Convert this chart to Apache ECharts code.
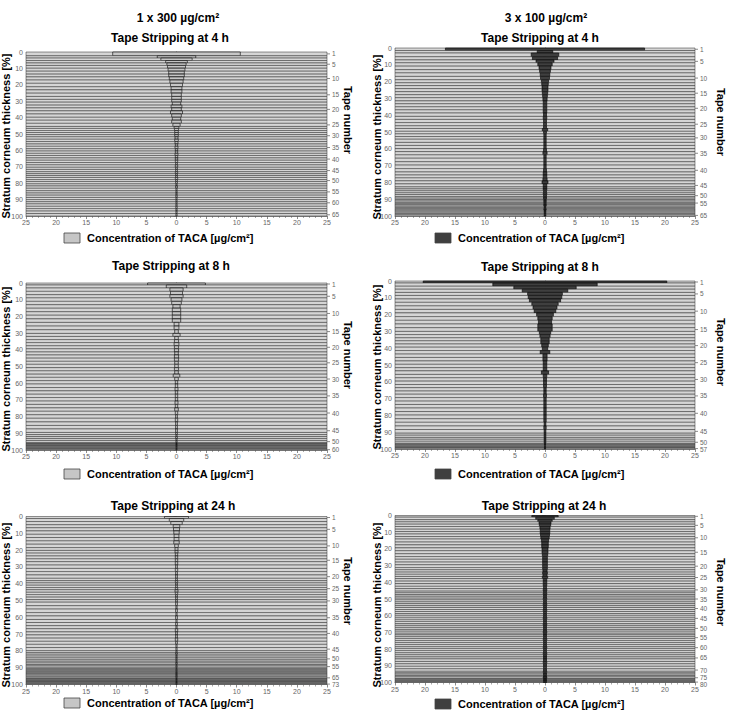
<!DOCTYPE html>
<html><head><meta charset="utf-8">
<script src="https://cdn.jsdelivr.net/npm/echarts@6/dist/echarts.min.js"></script>
<style>html,body{margin:0;padding:0;background:#fff}#c{width:730px;height:719px}</style>
</head><body><div id="c"></div>
<script>
// ---- Data: tape thickness [% of stratum corneum] and TACA concentration [µg/cm²] per tape ----
const thick_1x300_4h = [2.3, 1.4,1.5,1.5,1.5, 1.7,1.8,1.8,1.7,1.9, 2.0,2.1,1.9,2.0,2.0, 1.8,1.7,1.8,1.7,1.8, 1.9,2.0,1.8,1.9,1.9, 1.2,1.3,1.2,1.3,1.3, 1.5,1.4,1.5,1.4,1.5, 1.4,1.4,1.3,1.5,1.4, 1.4,1.4,1.5,1.3,1.4, 1.2,1.1,1.2,1.3,1.2, 1.4,1.3,1.4,1.5,1.4, 1.3,1.4,1.3,1.3,1.3, 1.5,1.4,1.5,1.5,1.5];
const conc_1x300_4h = [10.6, 3.2, 2.6, 1.8, 1.6, 1.5, 1.4, 1.3, 1.3, 1.2, 1.1, 1.0, 0.9, 0.9, 0.8, 0.8, 0.8, 0.7, 0.9, 0.8, 1.0, 0.8, 0.7, 0.8, 0.6, 0.4, 0.35, 0.3, 0.3, 0.3, 0.25, 0.3, 0.25, 0.2, 0.25, 0.2, 0.2, 0.25, 0.2, 0.2, 0.2, 0.15, 0.2, 0.15, 0.15, 0.2, 0.15, 0.15, 0.2, 0.15, 0.15, 0.1, 0.15, 0.1, 0.1, 0.1, 0.12, 0.1, 0.1, 0.1, 0.1, 0.12, 0.1, 0.1, 0.1];
const tapeLabels_1x300_4h = [1,5,10,15,20,25,30,35,40,45,50,55,60,65];

const thick_3x100_4h = [1.5, 1.5,2.2,1.9,1.7, 2.0,2.1,1.9,2.1,2.0, 1.8,1.7,1.8,1.8,1.8, 1.8,1.9,1.7,1.8,1.8, 1.9,2.0,1.8,1.9,1.9, 1.6,1.7,1.5,1.6,1.6, 1.9,1.8,1.9,1.8,1.9, 2.0,2.1,2.0,2.1,2.0, 1.8,1.7,1.8,1.8,1.8, 1.2,1.1,1.2,1.1,1.2, 0.9,0.8,0.9,0.8,0.8, 0.7,0.8,0.7,0.7,0.8,0.7,0.7,0.8,0.7,0.7];
const conc_3x100_4h = [16.6, 1.3, 2.3, 2.1, 1.5, 1.2, 1.0, 0.9, 0.8, 0.75, 0.6, 0.55, 0.5, 0.5, 0.45, 0.4, 0.35, 0.3, 0.3, 0.3, 0.3, 0.25, 0.3, 0.25, 0.25, 0.25, 0.45, 0.25, 0.2, 0.2, 0.2, 0.2, 0.2, 0.25, 0.35, 0.2, 0.2, 0.2, 0.2, 0.25, 0.3, 0.3, 0.35, 0.5, 0.3, 0.3, 0.3, 0.25, 0.3, 0.25, 0.25, 0.25, 0.2, 0.2, 0.2, 0.2, 0.2, 0.15, 0.15, 0.2, 0.15, 0.15, 0.15, 0.15, 0.15];
const tapeLabels_3x100_4h = [1,5,10,15,20,25,30,35,40,45,50,55,65];

const thick_1x300_8h = [1.2, 1.8,2.0,2.0,1.9, 2.1,2.0,2.1,2.1,2.1, 2.2,2.1,2.2,2.2,2.2, 1.8,1.9,1.8,1.9,1.8, 1.9,1.8,1.9,1.9,1.8, 2.0,1.9,2.0,1.9,2.0, 2.0,2.1,2.0,2.0,2.0, 2.1,2.0,2.1,2.0,2.1, 2.1,2.2,2.1,2.1,2.1, 1.3,1.2,1.2,1.2,1.2, 0.5,0.4,0.5,0.4,0.4,0.5,0.4,0.4,0.5,0.4];
const conc_1x300_8h = [4.8, 1.7, 1.1, 1.0, 1.1, 0.9, 0.8, 0.6, 0.7, 0.7, 0.7, 0.7, 0.4, 0.4, 0.3, 0.6, 0.3, 0.35, 0.4, 0.35, 0.35, 0.3, 0.35, 0.35, 0.3, 0.3, 0.35, 0.3, 0.55, 0.3, 0.2, 0.2, 0.25, 0.2, 0.2, 0.2, 0.25, 0.2, 0.3, 0.2, 0.15, 0.2, 0.15, 0.15, 0.15, 0.15, 0.1, 0.15, 0.1, 0.1, 0.1, 0.1, 0.1, 0.1, 0.1, 0.1, 0.1, 0.1, 0.1, 0.1];
const tapeLabels_1x300_8h = [1,5,10,15,20,25,30,35,40,45,50,60];

const thick_3x100_8h = [1.2, 1.9,1.8,1.9,1.8, 2.1,2.0,2.1,2.1,2.1, 2.2,2.2,2.2,2.2,2.2, 1.9,1.9,1.8,1.9,1.9, 2.0,2.1,2.0,2.1,2.0, 2.0,1.9,2.1,2.0,2.0, 2.0,1.9,2.0,1.9,2.0, 2.1,2.0,2.1,2.1,2.1, 2.2,2.1,2.2,2.1,2.2, 1.2,1.3,1.1,1.2,1.2, 0.5,0.5,0.5,0.5,0.5,0.4,0.5];
const conc_3x100_8h = [20.3, 8.7, 5.2, 3.8, 2.9, 2.8, 2.6, 2.2, 2.0, 1.8, 1.4, 1.2, 1.1, 1.2, 1.2, 0.95, 0.85, 0.7, 0.7, 0.55, 0.45, 0.8, 0.35, 0.35, 0.3, 0.3, 0.3, 0.6, 0.3, 0.25, 0.25, 0.25, 0.2, 0.2, 0.25, 0.2, 0.2, 0.2, 0.2, 0.2, 0.2, 0.2, 0.15, 0.2, 0.15, 0.15, 0.15, 0.15, 0.15, 0.15, 0.1, 0.1, 0.1, 0.1, 0.1, 0.1, 0.1];
const tapeLabels_3x100_8h = [1,5,10,15,20,25,30,35,40,45,50,57];

const thick_1x300_24h = [1.2, 1.8,1.9,1.8,1.9, 2.0,1.9,2.0,2.0,2.0, 1.7,1.6,1.7,1.7,1.7, 2.0,2.0,1.9,2.0,2.0, 1.4,1.3,1.4,1.4,1.3, 1.5,1.4,1.5,1.5,1.5, 2.1,2.0,2.1,2.0,2.1, 1.8,1.9,1.8,1.9,1.8, 1.9,1.9,1.8,1.9,1.9, 1.1,1.0,1.1,1.1,1.1, 0.9,1.0,0.9,0.8,0.9, 0.7,0.6,0.7,0.6,0.7,0.6,0.7,0.7,0.6,0.7, 0.4,0.5,0.4,0.5,0.4,0.5,0.4,0.5];
const conc_1x300_24h = [2.0, 1.2, 0.95, 0.55, 0.5, 0.45, 0.4, 0.4, 0.45, 0.3, 0.25, 0.25, 0.2, 0.2, 0.2, 0.2, 0.15, 0.2, 0.15, 0.15, 0.15, 0.2, 0.15, 0.15, 0.2, 0.25, 0.2, 0.15, 0.15, 0.15, 0.15, 0.1, 0.15, 0.1, 0.15, 0.1, 0.15, 0.1, 0.2, 0.15, 0.15, 0.2, 0.15, 0.1, 0.1, 0.1, 0.15, 0.1, 0.1, 0.1, 0.1, 0.1, 0.12, 0.1, 0.1, 0.1, 0.1, 0.12, 0.1, 0.1, 0.1, 0.1, 0.1, 0.12, 0.1, 0.1, 0.1, 0.1, 0.1, 0.1, 0.1, 0.1, 0.1];
const tapeLabels_1x300_24h = [1,5,10,15,20,25,30,35,40,45,50,55,65,73];

const thick_3x100_24h = [1.0, 1.5,1.3,1.4,1.4, 1.6,1.4,1.5,1.5,1.5, 1.8,1.7,1.8,1.7,1.8, 1.7,1.6,1.7,1.6,1.7, 1.3,1.4,1.3,1.3,1.3, 1.5,1.5,1.6,1.4,1.5, 1.0,1.1,1.0,1.1,1.0, 1.2,1.1,1.2,1.1,1.2, 1.2,1.2,1.1,1.2,1.2, 1.2,1.3,1.1,1.2,1.2, 1.1,1.2,1.0,1.1,1.1, 1.2,1.2,1.2,1.3,1.1, 1.2,1.3,1.2,1.3,1.2, 1.5,1.4,1.5,1.5,1.5, 0.9,0.8,0.9,0.8,0.9, 0.5,0.5,0.5,0.4,0.5];
const conc_3x100_24h = [2.2, 1.55, 1.2, 1.0, 0.95, 0.85, 0.8, 0.8, 0.75, 0.7, 0.6, 0.55, 0.55, 0.5, 0.5, 0.45, 0.4, 0.4, 0.4, 0.4, 0.4, 0.35, 0.4, 0.35, 0.45, 0.3, 0.3, 0.3, 0.25, 0.3, 0.25, 0.3, 0.25, 0.25, 0.3, 0.25, 0.25, 0.3, 0.25, 0.25, 0.3, 0.25, 0.25, 0.25, 0.3, 0.25, 0.25, 0.3, 0.25, 0.25, 0.25, 0.3, 0.25, 0.25, 0.25, 0.3, 0.25, 0.25, 0.25, 0.3, 0.25, 0.25, 0.3, 0.25, 0.25, 0.25, 0.3, 0.25, 0.25, 0.25, 0.3, 0.25, 0.25, 0.25, 0.3, 0.25, 0.25, 0.25, 0.25, 0.25];
const tapeLabels_3x100_24h = [1,5,10,15,20,25,30,35,40,45,50,55,60,65,70,75,80];

const xTicks = [-25,-20,-15,-10,-5,0,5,10,15,20,25];
const doseTitles = ['1 x 300 µg/cm²', '3 x 100 µg/cm²'];
const timeTitles = ['Tape Stripping at 4 h', 'Tape Stripping at 8 h', 'Tape Stripping at 24 h'];
const yAxisName = 'Stratum corneum thickness [%]';
const rightAxisName = 'Tape number';
const legendName = 'Concentration of TACA [µg/cm²]';

// ---- Layout ----
const FONT = '"Liberation Sans", Arial, Helvetica, sans-serif';
const panels = [
  {thick: thick_1x300_4h,  conc: conc_1x300_4h,  labels: tapeLabels_1x300_4h,  dark: false, g: [26, 52, 301, 164],  title: [170, 38],  yName: [6, 136],   tName: [348, 120], leg: [64, 238]},
  {thick: thick_3x100_4h,  conc: conc_3x100_4h,  labels: tapeLabels_3x100_4h,  dark: true,  g: [395, 48, 300, 168], title: [540, 38],  yName: [377, 137], tName: [721, 122], leg: [435, 238]},
  {thick: thick_1x300_8h,  conc: conc_1x300_8h,  labels: tapeLabels_1x300_8h,  dark: false, g: [26, 283, 301, 167], title: [171, 266], yName: [6, 369],   tName: [348, 355], leg: [64, 474]},
  {thick: thick_3x100_8h,  conc: conc_3x100_8h,  labels: tapeLabels_3x100_8h,  dark: true,  g: [395, 281, 300, 168],title: [540, 267], yName: [377, 367], tName: [721, 352], leg: [435, 474]},
  {thick: thick_1x300_24h, conc: conc_1x300_24h, labels: tapeLabels_1x300_24h, dark: false, g: [26, 516.5, 301, 168],title: [173, 506], yName: [6, 605],   tName: [348, 591], leg: [64, 703]},
  {thick: thick_3x100_24h, conc: conc_3x100_24h, labels: tapeLabels_3x100_24h, dark: true,  g: [395, 515.5, 300, 167],title: [544, 506], yName: [377, 605], tName: [721, 592], leg: [435, 704]}
];
const timeIndex = [0, 0, 1, 1, 2, 2];

function buildRows(thick, conc) {
  const rows = []; let s = 0;
  for (let i = 0; i < thick.length; i++) { const e = s + thick[i]; rows.push([s, e, conc[i], i + 1]); s = e; }
  return rows;
}

const option = {animation: false, grid: [], xAxis: [], yAxis: [], series: [], graphic: []};
const axisGray = '#6e6e6e';

panels.forEach((p, i) => {
  const rows = buildRows(p.thick, p.conc);
  option.grid.push({left: p.g[0], top: p.g[1], width: p.g[2], height: p.g[3]});
  option.xAxis.push({
    gridIndex: i, type: 'value', min: xTicks[0], max: xTicks[xTicks.length - 1], interval: 5,
    axisLine: {show: true, onZero: false, lineStyle: {color: axisGray, width: 0.8}},
    axisTick: {show: true, length: 3, lineStyle: {color: axisGray, width: 0.8}},
    minorTick: {show: true, splitNumber: 5, length: 2, lineStyle: {color: axisGray, width: 0.6}},
    splitLine: {show: false},
    axisLabel: {fontSize: 7, color: '#666', margin: 3, fontFamily: FONT, formatter: v => String(Math.abs(v))}
  });
  option.yAxis.push({
    gridIndex: i, type: 'value', inverse: true, min: 0, max: 100, interval: 10,
    axisLine: {show: true, lineStyle: {color: axisGray, width: 0.8}},
    axisTick: {show: true, length: 3, lineStyle: {color: axisGray, width: 0.8}},
    minorTick: {show: true, splitNumber: 2, length: 2, lineStyle: {color: axisGray, width: 0.6}},
    splitLine: {show: false},
    axisLabel: {fontSize: 7, color: '#666', margin: 3, fontFamily: FONT}
  });
  const barFill = p.dark ? '#3f3f3f' : '#c6c6c6';
  option.series.push({
    type: 'custom', xAxisIndex: i, yAxisIndex: i, clip: false, name: legendName,
    encode: {x: 2, y: [0, 1]},
    data: rows,
    renderItem: function (params, api) {
      const s = api.value(0), e = api.value(1), c = api.value(2);
      const a = api.coord([-25, s]), b = api.coord([25, e]);
      const ba = api.coord([-c, s]), bb = api.coord([c, e]);
      return {type: 'group', children: [
        {type: 'rect', shape: {x: a[0], y: a[1], width: b[0] - a[0], height: b[1] - a[1]},
         style: {fill: '#d5d5d5', stroke: '#2a2a2a', lineWidth: 0.5}},
        {type: 'rect', shape: {x: ba[0], y: ba[1], width: bb[0] - ba[0], height: bb[1] - ba[1]},
         style: {fill: barFill, stroke: '#000', lineWidth: 0.6}}
      ]};
    }
  });
  // right "Tape number" axis ticks & labels at the centre of the labelled tapes
  const centres = p.labels.map(n => (rows[n - 1][0] + rows[n - 1][1]) / 2);
  const labelRows = p.labels.map((n, k) => [centres[k], n, k > 0 ? centres[k - 1] : -1]);
  option.series.push({
    type: 'custom', xAxisIndex: i, yAxisIndex: i, clip: false, silent: true,
    encode: {y: 0},
    data: labelRows,
    renderItem: function (params, api) {
      const y = api.value(0), n = api.value(1), prev = api.value(2);
      const pt = api.coord([25, y]);
      let ty = pt[1];
      if (prev >= 0) { ty = Math.max(ty, api.coord([25, prev])[1] + 7); }
      return {type: 'group', children: [
        {type: 'line', shape: {x1: pt[0], y1: pt[1], x2: pt[0] + 3, y2: pt[1]}, style: {stroke: axisGray, lineWidth: 0.8}},
        {type: 'text', x: pt[0] + 5, y: ty, style: {text: String(n), fontSize: 6.5, fontFamily: FONT, fill: '#666', align: 'left', verticalAlign: 'middle', textAlign: 'left', textVerticalAlign: 'middle'}}
      ]};
    }
  });
  const t = (txt, x, y, size, rot) => ({type: 'text', x: x, y: y, rotation: rot || 0,
    style: {text: txt, font: 'bold ' + size + 'px ' + FONT, fill: '#000', align: 'center', verticalAlign: 'middle', textAlign: 'center', textVerticalAlign: 'middle'}});
  option.graphic.push(t(timeTitles[timeIndex[i]], p.title[0], p.title[1], 12));
  option.graphic.push(t(yAxisName, p.yName[0], p.yName[1], 11, Math.PI / 2));
  option.graphic.push(t(rightAxisName, p.tName[0], p.tName[1], 11, -Math.PI / 2));
  option.graphic.push({type: 'rect', shape: {x: p.leg[0], y: p.leg[1] - 5, width: 16, height: 10},
    style: {fill: barFill, stroke: '#444', lineWidth: 0.8}});
  option.graphic.push({type: 'text', x: p.leg[0] + 23, y: p.leg[1],
    style: {text: legendName, font: 'bold 11px ' + FONT, fill: '#000', align: 'left', verticalAlign: 'middle', textAlign: 'left', textVerticalAlign: 'middle'}});
});
option.graphic.push({type: 'text', x: 178, y: 18, style: {text: doseTitles[0], font: 'bold 12px ' + FONT, fill: '#000', align: 'center', verticalAlign: 'middle', textAlign: 'center', textVerticalAlign: 'middle'}});
option.graphic.push({type: 'text', x: 546, y: 18, style: {text: doseTitles[1], font: 'bold 12px ' + FONT, fill: '#000', align: 'center', verticalAlign: 'middle', textAlign: 'center', textVerticalAlign: 'middle'}});

const chart = echarts.init(document.getElementById('c'), null, {renderer: 'svg', width: 730, height: 719});
chart.setOption(option);
</script>
</body></html>
